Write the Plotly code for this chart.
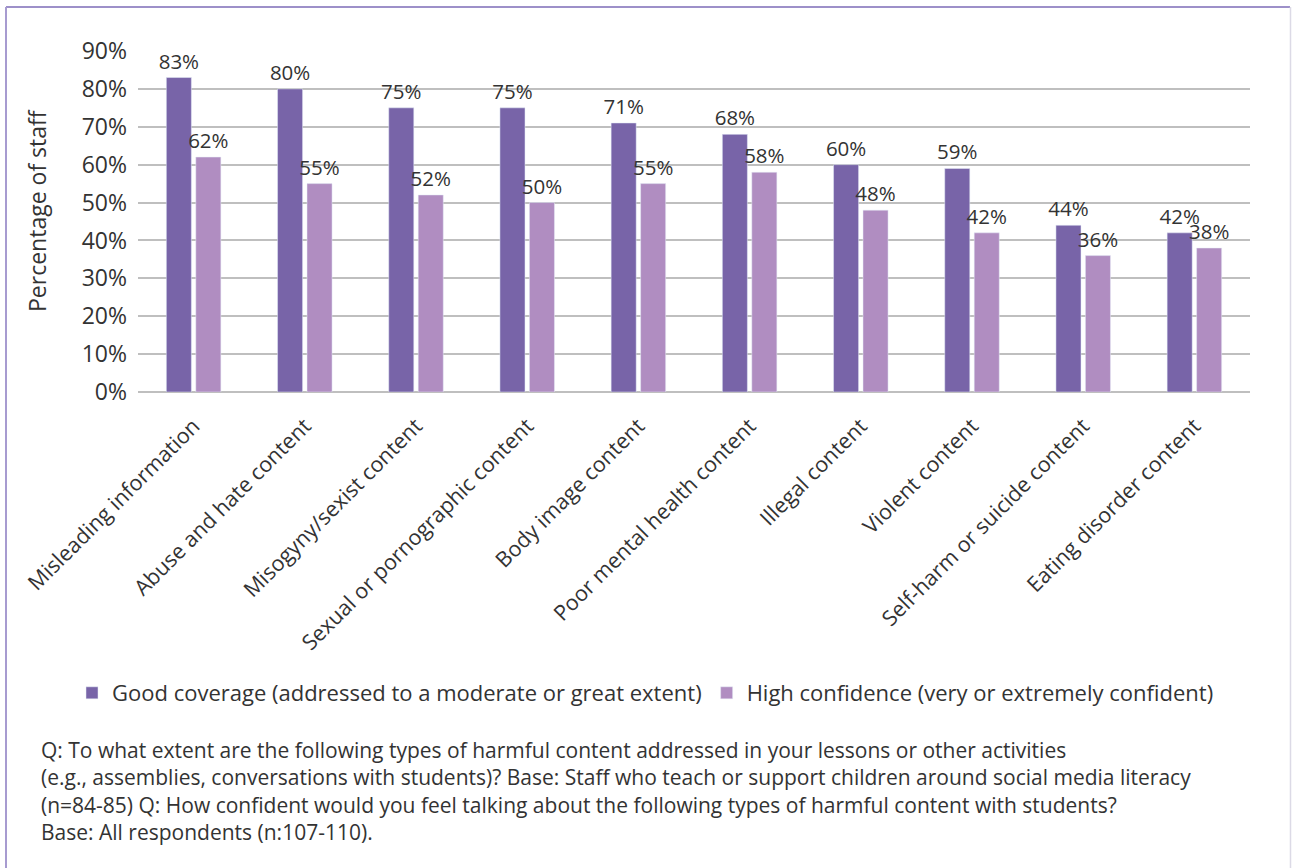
import plotly.graph_objects as go

categories = ["Misleading information", "Abuse and hate content", "Misogyny/sexist content",
              "Sexual or pornographic content", "Body image content", "Poor mental health content",
              "Illegal content", "Violent content", "Self-harm or suicide content", "Eating disorder content"]
good_coverage = [83, 80, 75, 75, 71, 68, 60, 59, 44, 42]
high_confidence = [62, 55, 52, 50, 55, 58, 48, 42, 36, 38]
y_ticks = [0, 10, 20, 30, 40, 50, 60, 70, 80, 90]
y_tick_labels = [f"{v}%" for v in y_ticks]
series_names = ["Good coverage (addressed to a moderate or great extent)",
                "High confidence (very or extremely confident)"]
footnote = ("Q: To what extent are the following types of harmful content addressed in your lessons or other activities<br>"
            "(e.g., assemblies, conversations with students)? Base: Staff who teach or support children around social media literacy<br>"
            "(n=84-85) Q: How confident would you feel talking about the following types of harmful content with students?<br>"
            "Base: All respondents (n:107-110).")

W, H = 1292, 868
L, T = 138, 51
PLOT_RIGHT, PLOT_BOTTOM = 1250, 392
R = W - PLOT_RIGHT
B = H - PLOT_BOTTOM
PW, PH = W - L - R, H - T - B

def px(x):
    return (x - L) / PW

def py(y):
    return (PLOT_BOTTOM - y) / PH

FONT = "Open Sans"
TXT = "#333333"

fig = go.Figure()
fig.add_trace(go.Bar(x=categories, y=good_coverage, name=series_names[0],
                     marker_color="#7864a8",
                     text=[f"{v}%" for v in good_coverage], textposition="outside",
                     constraintext="none", cliponaxis=False,
                     textfont=dict(family=FONT, size=20.5, color=TXT)))
fig.add_trace(go.Bar(x=categories, y=high_confidence, name=series_names[1],
                     marker_color="#b08dc1",
                     text=[f"{v}%" for v in high_confidence], textposition="outside",
                     constraintext="none", cliponaxis=False,
                     textfont=dict(family=FONT, size=20.5, color=TXT)))

fig.update_layout(
    width=W, height=H,
    margin=dict(l=L, r=R, t=T, b=B, autoexpand=False),
    paper_bgcolor="white", plot_bgcolor="white",
    barmode="group", bargap=0.47, bargroupgap=0.15,
    font=dict(family=FONT, size=21, color=TXT),
    showlegend=True,
    legend=dict(orientation="h", x=px(72), xanchor="left", y=py(693), yanchor="middle",
                font=dict(family=FONT, size=22, color=TXT), itemwidth=30,
                bgcolor="rgba(0,0,0,0)"),
    xaxis=dict(tickangle=-45, tickfont=dict(family=FONT, size=21.5, color=TXT),
               showgrid=False, showline=False, ticks="outside", ticklen=12,
               tickcolor="rgba(0,0,0,0)"),
    yaxis=dict(range=[0, 90], tickvals=y_ticks, ticktext=y_tick_labels,
               showgrid=True, gridcolor="#bfbfbf", gridwidth=1.5,
               zeroline=True, zerolinecolor="#bfbfbf", zerolinewidth=1.5,
               showline=False, ticks="", ticklabelstandoff=10,
               tickfont=dict(family=FONT, size=23, color=TXT)),
    annotations=[
        dict(text="Percentage of staff", xref="paper", yref="paper", x=px(37), y=py(211),
             xanchor="center", yanchor="middle", textangle=-90, showarrow=False,
             font=dict(family=FONT, size=23, color=TXT)),
        dict(text=footnote, xref="paper", yref="paper", x=px(39), y=py(734),
             xanchor="left", yanchor="top", align="left", showarrow=False,
             font=dict(family=FONT, size=21, color=TXT)),
    ],
    shapes=[
        dict(type="line", xref="paper", yref="paper", x0=px(6), x1=px(1290), y0=py(7), y1=py(7),
             line=dict(color="#9d90c9", width=2)),
        dict(type="line", xref="paper", yref="paper", x0=px(6), x1=px(6), y0=py(7), y1=py(880),
             line=dict(color="#a79bd0", width=2)),
        dict(type="line", xref="paper", yref="paper", x0=px(1290.5), x1=px(1290.5), y0=py(7), y1=py(880),
             line=dict(color="#dcdae6", width=1.5)),
    ],
)

fig.write_html("out.html", config={"displayModeBar": False},
               post_script="document.body.style.margin='0';document.body.style.overflow='hidden';")
